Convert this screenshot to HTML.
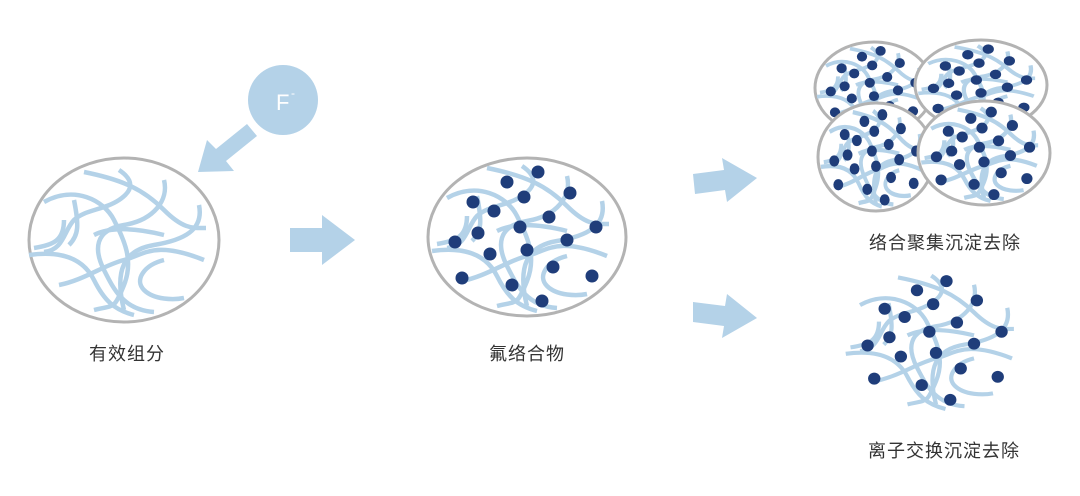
<!DOCTYPE html>
<html><head><meta charset="utf-8"><style>
html,body{margin:0;padding:0;background:#fff;}
svg{display:block;}
text{font-family:"Liberation Sans","Noto Sans CJK SC",sans-serif;fill:#333;font-size:18px;letter-spacing:1px;}
</style></head><body>
<svg width="1080" height="496" viewBox="0 0 1080 496" xmlns="http://www.w3.org/2000/svg">
<defs>
<g id="paths">
<path d="M-40,-68 C0,-60 20,-50 40,-30 S70,-12 82,-12"/>
<path d="M-80,-38 C-50,-55 -20,-40 -10,-20 S10,20 0,45 S-10,65 -30,70"/>
<path d="M-5,-70 C10,-60 10,-50 -5,-40 S-40,-30 -50,-20 S-60,10 -80,12"/>
<path d="M40,-60 C45,-40 30,-20 0,-15 S-30,10 -20,30 S0,70 30,72"/>
<path d="M75,-35 C80,-10 60,0 30,5 S-10,30 0,70"/>
<path d="M-95,15 C-60,10 -40,20 -30,40 S-10,70 10,75"/>
<path d="M-65,45 C-40,40 -20,25 0,20 S30,0 80,20"/>
<path d="M-50,-40 C-45,-15 -45,-5 -55,5"/>
<path d="M40,20 C20,25 10,40 20,50 S50,60 60,58"/>
<path d="M-30,-5 C-10,-15 20,-10 40,-5"/>
<path d="M-90,8 C-70,5 -60,0 -60,-20"/>
</g>
<g id="fib" fill="none" stroke="#b4d2e8" stroke-width="4.5"><use href="#paths"/></g>
<g id="fibS" fill="none" stroke="#b4d2e8" stroke-width="6.5"><use href="#paths"/></g>
<g id="dots" fill="#1f3d7a">
<circle cx="11" cy="-64" r="6.5"/><circle cx="-20" cy="-54" r="6.5"/><circle cx="43" cy="-43" r="6.5"/>
<circle cx="-54" cy="-34" r="6.5"/><circle cx="-3" cy="-39" r="6.5"/><circle cx="-33" cy="-25" r="6.5"/>
<circle cx="22" cy="-19" r="6.5"/><circle cx="69" cy="-9" r="6.5"/><circle cx="-7" cy="-9" r="6.5"/>
<circle cx="-49" cy="-3" r="6.5"/><circle cx="-72" cy="6" r="6.5"/><circle cx="40" cy="4" r="6.5"/>
<circle cx="-37" cy="18" r="6.5"/><circle cx="0" cy="14" r="6.5"/><circle cx="26" cy="31" r="6.5"/>
<circle cx="65" cy="40" r="6.5"/><circle cx="-65" cy="42" r="6.5"/><circle cx="-15" cy="49" r="6.5"/>
<circle cx="15" cy="65" r="6.5"/>
</g>
<g id="dotsS" fill="#1f3d7a">
<circle cx="11" cy="-64" r="8.5"/><circle cx="-20" cy="-54" r="8.5"/><circle cx="43" cy="-43" r="8.5"/>
<circle cx="-54" cy="-34" r="8.5"/><circle cx="-3" cy="-39" r="8.5"/><circle cx="-33" cy="-25" r="8.5"/>
<circle cx="22" cy="-19" r="8.5"/><circle cx="69" cy="-9" r="8.5"/><circle cx="-7" cy="-9" r="8.5"/>
<circle cx="-49" cy="-3" r="8.5"/><circle cx="-72" cy="6" r="8.5"/><circle cx="40" cy="4" r="8.5"/>
<circle cx="-37" cy="18" r="8.5"/><circle cx="0" cy="14" r="8.5"/><circle cx="26" cy="31" r="8.5"/>
<circle cx="65" cy="40" r="8.5"/><circle cx="-65" cy="42" r="8.5"/><circle cx="-15" cy="49" r="8.5"/>
<circle cx="15" cy="65" r="8.5"/>
</g>
<g id="full"><use href="#fib"/><use href="#dots"/></g>
<g id="fullS"><use href="#fibS"/><use href="#dotsS"/></g>
</defs>

<circle cx="283" cy="100" r="35" fill="#b4d2e8"/>
<text x="276" y="110" style="fill:#fff;font-size:22px;letter-spacing:0">F</text>
<text x="291" y="97" style="fill:#fff;font-size:12px">-</text>
<polygon points="247,124 257,136 226,161 234,171 198,172 207,140 216,149" fill="#b4d2e8"/>

<ellipse cx="124" cy="240" rx="95" ry="82" fill="#fff" stroke="#b3b3b3" stroke-width="3"/>
<use href="#fib" transform="translate(124,240)"/>
<text x="127" y="360" text-anchor="middle">有效组分</text>

<polygon points="290,228 322,228 322,215 355,240 322,265 322,252 290,252" fill="#b4d2e8"/>

<ellipse cx="527" cy="237" rx="99" ry="79" fill="#fff" stroke="#b3b3b3" stroke-width="3"/>
<use href="#full" transform="translate(527,236)"/>
<text x="527" y="360" text-anchor="middle">氟络合物</text>

<polygon points="693,174 724,170 722,158 757,178 727,202 725,190 695,194" fill="#b4d2e8"/>
<polygon points="693,302 725,306 727,294 757,318 722,338 724,326 693,322" fill="#b4d2e8"/>

<ellipse cx="874" cy="88" rx="59" ry="46" fill="#fff" stroke="#b3b3b3" stroke-width="3"/>
<use href="#fullS" transform="translate(874,88) scale(0.6,0.58)"/>
<ellipse cx="981" cy="85" rx="66" ry="45" fill="#fff" stroke="#b3b3b3" stroke-width="3"/>
<use href="#fullS" transform="translate(981,85) scale(0.66,0.56)"/>
<ellipse cx="876" cy="157" rx="58" ry="54" fill="#fff" stroke="#b3b3b3" stroke-width="3"/>
<use href="#fullS" transform="translate(876,157) scale(0.58,0.66)"/>
<ellipse cx="984" cy="153" rx="66" ry="52" fill="#fff" stroke="#b3b3b3" stroke-width="3"/>
<use href="#fullS" transform="translate(984,153) scale(0.66,0.64)"/>
<text x="945" y="249" text-anchor="middle">络合聚集沉淀去除</text>

<use href="#full" transform="translate(936,340) scale(0.95,0.92)"/>
<text x="944" y="457" text-anchor="middle">离子交换沉淀去除</text>
</svg>
</body></html>
